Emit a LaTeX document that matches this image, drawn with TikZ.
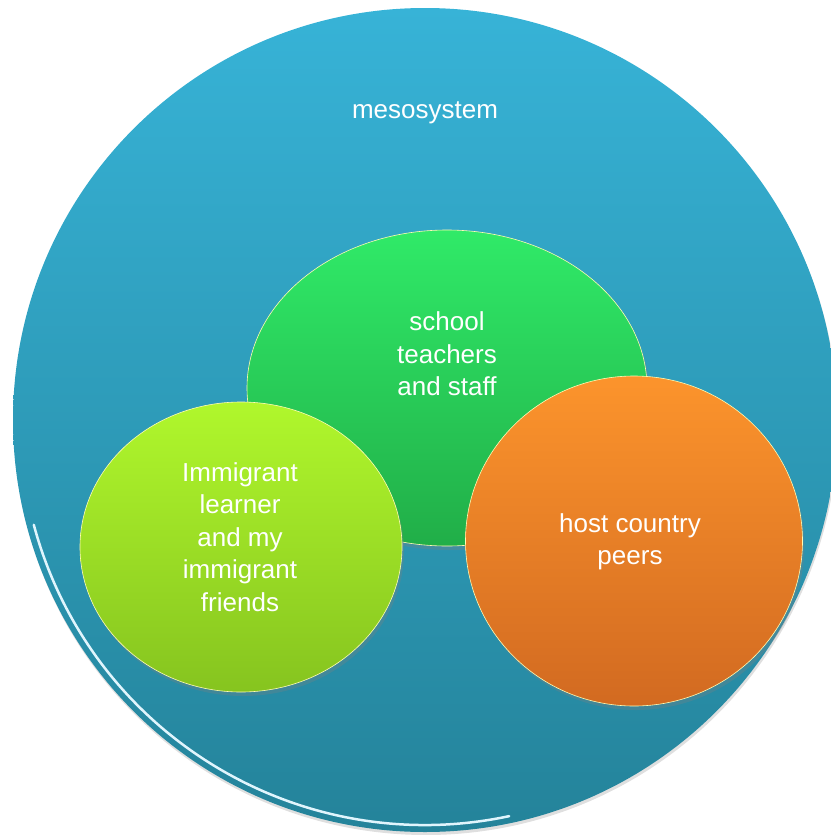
\documentclass[tikz,border=0pt]{standalone}
\usepackage{fontspec}
\setmainfont{Liberation Sans}
\usetikzlibrary{shapes.geometric,shadows}

\definecolor{mesotop}{HTML}{37B3D7}
\definecolor{mesobot}{HTML}{24839A}
\definecolor{schooltop}{HTML}{30EA68}
\definecolor{schoolbot}{HTML}{21AE48}
\definecolor{learnertop}{HTML}{B0F72C}
\definecolor{learnerbot}{HTML}{86C41F}
\definecolor{peerstop}{HTML}{FC942C}
\definecolor{peersbot}{HTML}{D26A21}

\begin{document}
\begin{tikzpicture}[x=1pt,y=-1pt,
    bubble/.style={ellipse, inner sep=0pt, draw=white!70!yellow, line width=0.6pt,
      drop shadow={opacity=0.3, shadow xshift=2pt, shadow yshift=-4pt}},
    txt/.style={text=white, align=center, font=\fontsize{26}{32.5}\selectfont}]
  \useasboundingbox (0,0) rectangle (830,835);

  % outer circle
  \node[circle, minimum size=824pt, inner sep=0pt, top color=mesotop, bottom color=mesobot,
    drop shadow={opacity=0.25, shadow xshift=1pt, shadow yshift=-3pt}] (meso) at (425,420) {};
  \coordinate (rim) at (33.8,524.8);
  \draw[cyan!12!white, line width=2.5pt, line cap=round] (rim) arc[start angle=195, end angle=282, radius=405pt];
  \node[txt] (mesotxt) at (425,113) {mesosystem};

  % inner bubbles
  \node[bubble, minimum width=400pt, minimum height=316pt, top color=schooltop, bottom color=schoolbot] (school) at (447,388) {};
  \node[txt] (schooltxt) at (447,354) {school\\teachers\\and staff};

  \node[bubble, minimum width=322pt, minimum height=290pt, top color=learnertop, bottom color=learnerbot] (learner) at (241,547) {};
  \node[txt] (learnertxt) at (240,537) {Immigrant\\learner\\and my\\immigrant\\friends};

  \node[bubble, minimum width=337pt, minimum height=330pt, top color=peerstop, bottom color=peersbot] (peers) at (634,541) {};
  \node[txt] (peerstxt) at (630,542) {host country\\peers};
\end{tikzpicture}
\end{document}
